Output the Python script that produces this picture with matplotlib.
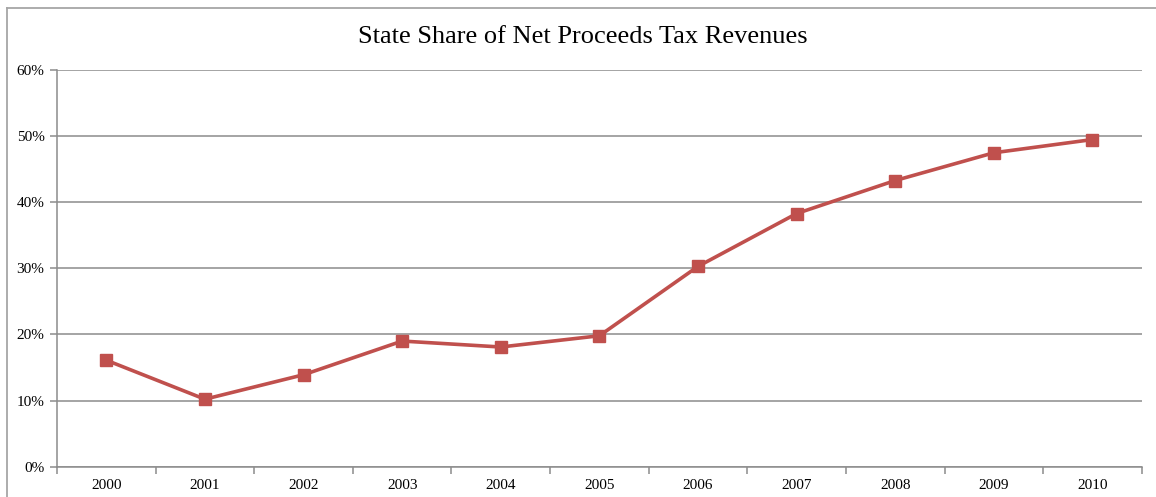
import numpy as np
import matplotlib.pyplot as plt
from matplotlib.lines import Line2D
from matplotlib.ticker import FuncFormatter

years = ["2000", "2001", "2002", "2003", "2004", "2005", "2006", "2007", "2008", "2009", "2010"]
share = [16.1, 10.2, 13.9, 19.0, 18.1, 19.8, 30.3, 38.3, 43.3, 47.5, 49.5]

plt.rcParams["font.family"] = ["Liberation Serif", "DejaVu Serif"]

fig = plt.figure(figsize=(11.56, 4.97), dpi=100)
ax = fig.add_axes([0.0493, 0.0612, 0.9384, 0.7976])

x = np.arange(len(years))
ax.plot(x, share, color="#c0504d", lw=2.6, marker="s", ms=8.5,
        markeredgecolor="#c0504d", zorder=3, clip_on=False)

ax.set_xlim(-0.5, len(years) - 0.5)
ax.set_ylim(0, 60)
ax.set_yticks(range(0, 61, 10))
ax.yaxis.set_major_formatter(FuncFormatter(lambda v, p: f"{v:.0f}%"))
ax.grid(axis="y", color="#8c8c8c", lw=1.1)
ax.set_axisbelow(True)

# category labels centred, tick marks between categories
ax.set_xticks(x)
ax.set_xticklabels(years)
ax.set_xticks(np.arange(-0.5, len(years), 1), minor=True)
ax.tick_params(axis="x", which="major", length=0, pad=9, labelsize=11)
ax.tick_params(axis="x", which="minor", length=5, color="#8c8c8c", width=1.1)
ax.tick_params(axis="y", length=5, color="#8c8c8c", width=1.1, labelsize=11, pad=4)

for s in ["top", "right"]:
    ax.spines[s].set_visible(False)
for s in ["left", "bottom"]:
    ax.spines[s].set_color("#8c8c8c")
    ax.spines[s].set_linewidth(1.1)

fig.text(0.504, 0.925, "State Share of Net Proceeds Tax Revenues",
         ha="center", va="center", fontsize=19)

# outer frame of the chart area (top and left edges)
fig.add_artist(Line2D([7 / 1156, 1], [1 - 8 / 497, 1 - 8 / 497],
                      transform=fig.transFigure, color="#a6a6a6", lw=1.3))
fig.add_artist(Line2D([7 / 1156, 7 / 1156], [0, 1 - 8 / 497],
                      transform=fig.transFigure, color="#a6a6a6", lw=1.3))

fig.savefig("out.png", dpi=100)
